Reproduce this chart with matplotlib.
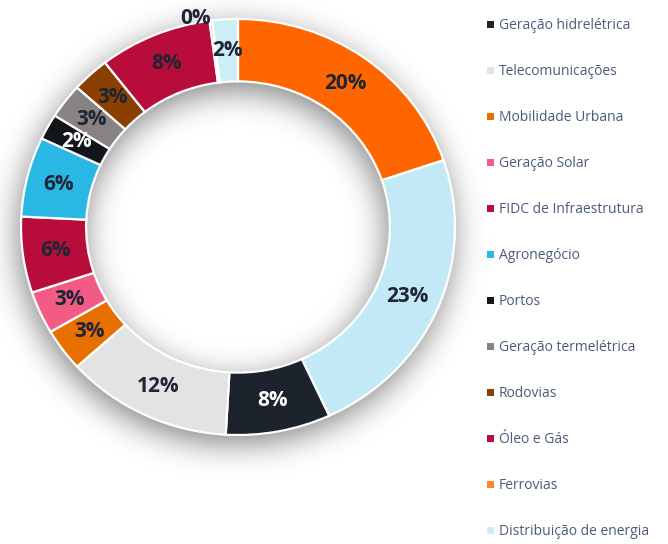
import matplotlib
matplotlib.use('Agg')
import matplotlib.pyplot as plt
import numpy as np
from matplotlib.patches import Rectangle

# slices clockwise from 12 o'clock (first two are not named in the visible legend)
names = ['', '', 'Geração hidrelétrica', 'Telecomunicações', 'Mobilidade Urbana',
         'Geração Solar', 'FIDC de Infraestrutura', 'Agronegócio', 'Portos',
         'Geração termelétrica', 'Rodovias', 'Óleo e Gás', 'Ferrovias',
         'Distribuição de energia']
values = [19.8, 23.3, 7.8, 12.4, 3.3, 3.3, 5.9, 6.2, 2.0, 2.7, 2.8, 8.4, 0.2, 1.9]
colors = ['#FF6600', '#C3E9F6', '#1D232D', '#E3E3E3', '#E87000', '#F25C84',
          '#B80D3A', '#29B7E3', '#12161B', '#888382', '#8A4000', '#B80D3A',
          '#FF8435', '#CDEEF7']
light_text = ['Geração hidrelétrica', 'Portos']

C_TXT = '#1E2535'
C_LEG = '#4B5B7A'

W, H = 668, 544
CX, CY = 238, 227          # donut centre (px, from top)
RX, RY = 217, 208          # outer radii (px)
HOLE = 0.70

fig = plt.figure(figsize=(W / 100, H / 100), dpi=100)
fig.patch.set_facecolor('white')

# ── blurred drop shadow of the ring ──
yy, xx = np.mgrid[0:H, 0:W]
rn = np.sqrt(((xx - CX + 3) / RX) ** 2 + ((yy - CY - 8) / RY) ** 2)
mask = ((rn <= 1.0) & (rn >= HOLE)).astype(float)
sig = 16
kx = np.arange(-3 * sig, 3 * sig + 1)
kern = np.exp(-kx ** 2 / (2 * sig ** 2))
kern /= kern.sum()
blur = np.apply_along_axis(lambda r: np.convolve(r, kern, 'same'), 1, mask)
blur = np.apply_along_axis(lambda c: np.convolve(c, kern, 'same'), 0, blur)
shadow = np.zeros((H, W, 4))
shadow[..., 3] = 0.5 * blur
fig.figimage(shadow, xo=0, yo=0, zorder=-1, origin='upper')

# donut is slightly wider than tall in the reference
ax = fig.add_axes([(CX - RX) / W, (H - CY - RY) / H, 2 * RX / W, 2 * RY / H])
ax.axis('off')

wedges, _, pcts = ax.pie(values, colors=colors, startangle=90, counterclock=False,
                         radius=1.0, autopct=lambda p: f'{p:.0f}%', pctdistance=0.85,
                         wedgeprops=dict(width=1 - HOLE, edgecolor='white', linewidth=1.6),
                         textprops=dict(family='Open Sans', fontsize=15,
                                        fontweight='bold', color=C_TXT))
ax.set_aspect('auto')
ax.set_xlim(-1, 1)
ax.set_ylim(-1, 1)

for name, t in zip(names, pcts):
    if name in light_text:
        t.set_color('white')
    if name == 'Ferrovias':
        x, y = t.get_position()
        t.set_position((x - 0.09, y + 0.16))

# legend, drawn by hand to match the spacing
leg = [(n, c) for n, c in zip(names, colors) if n]
for i, (n, c) in enumerate(leg):
    yc = 1 - (24 + 46.0 * i) / H
    fig.patches.append(Rectangle((487 / W, yc - 3.5 / H), 7 / W, 7 / H,
                                 transform=fig.transFigure, color=c, lw=0))
    fig.text(499 / W, yc - 1.5 / H, n, ha='left', va='center', fontsize=10,
             family='Open Sans', color=C_LEG)

plt.savefig('out.png', dpi=100, facecolor='white')
